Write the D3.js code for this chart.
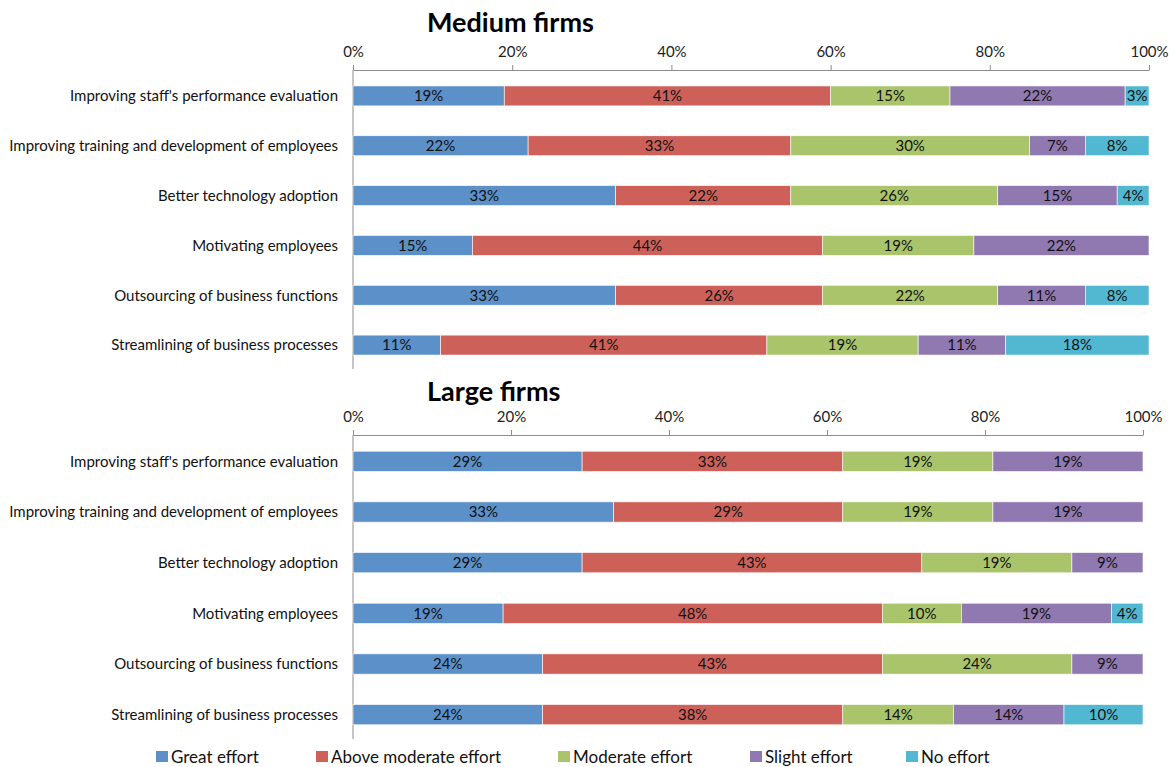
<!DOCTYPE html>
<html>
<head>
<meta charset="utf-8">
<script src="https://cdn.jsdelivr.net/npm/d3@7/dist/d3.min.js"></script>
<style>
  html, body { margin: 0; padding: 0; background: #fff; }
  svg { display: block; font-family: Lato, "Open Sans", sans-serif; }
</style>
</head>
<body>
<svg id="chart" width="1175" height="767"></svg>
<script>
// Survey categories (top to bottom)
const categories = [
  "Improving staff's performance evaluation",
  "Improving training and development of employees",
  "Better technology adoption",
  "Motivating employees ",
  "Outsourcing of business functions",
  "Streamlining of business processes"
];

// Effort levels, in stacking order
const levels = ["Great effort", "Above moderate effort", "Moderate effort", "Slight effort", "No effort"];
const levelColors = ["#5b90c9", "#cd615a", "#a9c46b", "#9078b0", "#52b7d0"];

// Medium firms, % of respondents per category for each effort level
const mediumGreat     = [19, 22, 33, 15, 33, 11];
const mediumAboveMod  = [41, 33, 22, 44, 26, 41];
const mediumModerate  = [15, 30, 26, 19, 22, 19];
const mediumSlight    = [22,  7, 15, 22, 11, 11];
const mediumNone      = [ 3,  8,  4,  0,  8, 18];

// Large firms
const largeGreat      = [29, 33, 29, 19, 24, 24];
const largeAboveMod   = [33, 29, 43, 48, 43, 38];
const largeModerate   = [19, 19, 19, 10, 24, 14];
const largeSlight     = [19, 19,  9, 19,  9, 14];
const largeNone       = [ 0,  0,  0,  4,  0, 10];

const tickValues = [0, 20, 40, 60, 80, 100];

const svg = d3.select("#chart");

function buildRows(series) {
  return categories.map((c, i) => {
    const row = { category: c };
    levels.forEach((l, k) => { row[l] = series[k][i]; });
    return row;
  });
}

function drawPanel(opts) {
  const { title, series, x0, x1, y0, y1, titleY } = opts;
  const g = svg.append("g");

  const x = d3.scaleLinear().domain([0, 100]).range([x0, x1]);
  const y = d3.scaleBand().domain(categories).range([y0 + 1, y1 + 1])
    .paddingInner(0.6).paddingOuter(0.3);

  // Title
  g.append("text")
    .attr("x", 427).attr("y", titleY)
    .attr("font-size", 27).attr("font-weight", "bold")
    .attr("fill", "#000")
    .text(title);

  // Top percentage axis
  const axis = d3.axisTop(x)
    .tickValues(tickValues)
    .tickFormat(d => d + "%")
    .tickSizeInner(5).tickSizeOuter(0).tickPadding(8);
  const ax = g.append("g").attr("transform", `translate(0,${y0})`).call(axis);
  ax.select(".domain").attr("stroke", "#8c8c8c");
  ax.selectAll(".tick line").attr("stroke", "#8c8c8c");
  ax.selectAll(".tick text")
    .attr("font-size", 15).attr("fill", "#222")
    .attr("font-family", "Lato, 'Open Sans', sans-serif");

  // Left category line
  g.append("line")
    .attr("x1", x0).attr("x2", x0)
    .attr("y1", y0).attr("y2", y1)
    .attr("stroke", "#8c8c8c").attr("stroke-width", 1);

  // Category labels
  g.selectAll("text.cat")
    .data(categories)
    .join("text")
    .attr("class", "cat")
    .attr("x", x0 - 15)
    .attr("y", d => y(d) + y.bandwidth() / 2)
    .attr("dy", "0.35em")
    .attr("text-anchor", "end")
    .attr("font-size", 15)
    .attr("fill", "#111")
    .text(d => d);

  // Stacked bars
  const rows = buildRows(series);
  const stacked = d3.stack().keys(levels)(rows);

  const layer = g.selectAll("g.layer")
    .data(stacked)
    .join("g")
    .attr("class", "layer")
    .attr("fill", (d, i) => levelColors[i]);

  layer.selectAll("rect")
    .data(d => d.filter(p => p[1] - p[0] > 0))
    .join("rect")
    .attr("x", d => x(d[0]))
    .attr("y", d => y(d.data.category))
    .attr("width", d => x(d[1]) - x(d[0]))
    .attr("height", y.bandwidth())
    .attr("stroke", "#fff")
    .attr("stroke-width", 0.6);

  layer.selectAll("text")
    .data(d => d.filter(p => p[1] - p[0] > 0))
    .join("text")
    .attr("x", d => (x(d[0]) + x(d[1])) / 2)
    .attr("y", d => y(d.data.category) + y.bandwidth() / 2)
    .attr("dy", "0.36em")
    .attr("text-anchor", "middle")
    .attr("font-size", 15)
    .attr("fill", "#111")
    .text(d => (d[1] - d[0]) + "%");
}

drawPanel({
  title: "Medium firms",
  series: [mediumGreat, mediumAboveMod, mediumModerate, mediumSlight, mediumNone],
  x0: 353, x1: 1149, y0: 70, y1: 369, titleY: 32
});

drawPanel({
  title: "Large firms",
  series: [largeGreat, largeAboveMod, largeModerate, largeSlight, largeNone],
  x0: 353, x1: 1143, y0: 435, y1: 739, titleY: 401
});

// Legend along the bottom edge
const legendX = [156, 316, 558, 750, 906];
const legend = svg.append("g")
  .selectAll("g")
  .data(levels)
  .join("g")
  .attr("transform", (d, i) => `translate(${legendX[i]},751)`);

legend.append("rect")
  .attr("width", 12).attr("height", 11)
  .attr("fill", (d, i) => levelColors[i]);

legend.append("text")
  .attr("x", 15).attr("y", 11.5)
  .attr("font-size", 17)
  .attr("fill", "#111")
  .text(d => d);
</script>
</body>
</html>
